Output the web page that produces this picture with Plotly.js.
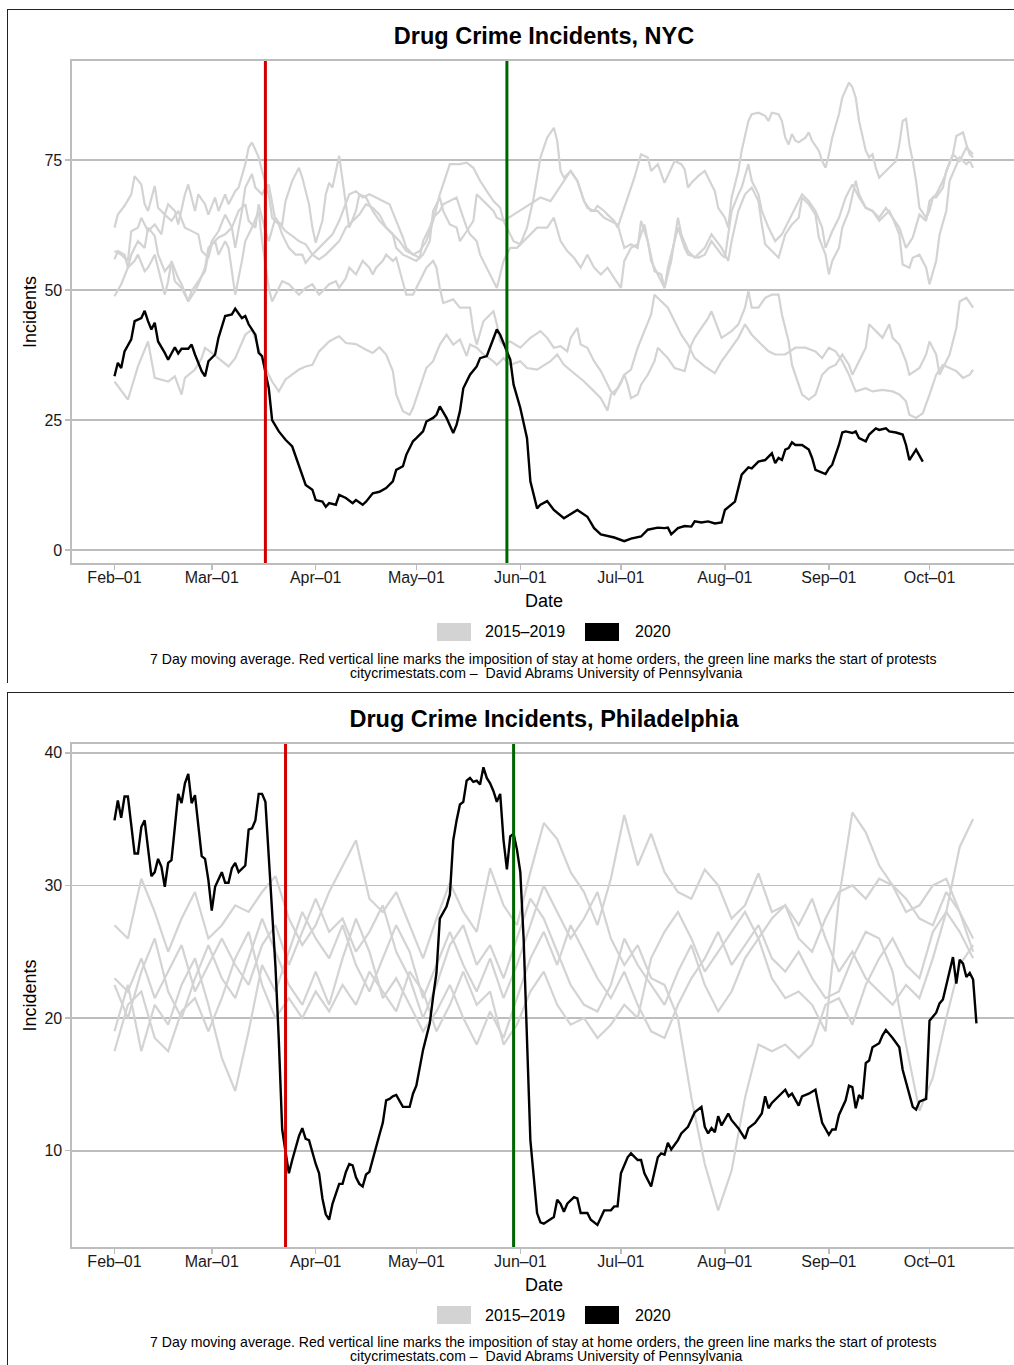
<!DOCTYPE html>
<html>
<head>
<meta charset="utf-8">
<script src="https://cdn.plot.ly/plotly-3.0.1.min.js"></script>
<style>
  html, body { margin:0; padding:0; background:#fff; width:1014px; height:1365px; overflow:hidden; }
  .frame { position:absolute; border-left:1.5px solid #222; border-top:1.5px solid #222; }
  .plot { position:absolute; }
</style>
</head>
<body>
<div class="frame" style="left:7px; top:9px; width:1100px; height:673px;"></div>
<div class="frame" style="left:7px; top:692px; width:1100px; height:700px;"></div>
<div id="nyc" class="plot" style="left:8px; top:10px; width:1010px; height:672px;"></div>
<div id="phl" class="plot" style="left:8px; top:693px; width:1010px; height:672px;"></div>
<script>
// ---------------- DATA ----------------
// day offsets are days after 2020-02-01
const tickDates = ['2020-02-01','2020-03-01','2020-04-01','2020-05-01','2020-06-01','2020-07-01','2020-08-01','2020-09-01','2020-10-01'];
const tickLabels = ['Feb–01','Mar–01','Apr–01','May–01','Jun–01','Jul–01','Aug–01','Sep–01','Oct–01'];
const legendLabels = ['2015–2019', '2020'];

// NYC
const nycStayHome = '2020-03-17';
const nycProtests = '2020-05-28';
const nycTicks = [0, 25, 50, 75];

const nyc2020Days = [0,1,2,3,5,6,8,9,10,11,12,13,15,16,18,19,20,22,23,24,26,27,28,30,31,33,35,36,38,39,40,42,43,44,46,47,49,51,53,55,57,59,60,62,63,64,66,67,69,71,72,74,75,77,79,81,83,84,86,87,89,90,92,93,95,96,97,99,101,102,103,104,106,108,109,111,112,113,114,115,116,118,119,121,123,124,126,127,129,131,134,136,138,141,143,145,147,149,152,154,157,159,162,164,165,166,168,170,172,173,175,177,179,181,182,184,185,187,189,190,192,194,196,197,198,199,200,201,202,203,205,207,208,209,210,212,213,214,216,217,218,220,221,222,224,225,227,228,230,231,233,235,236,237,239,241];
const nyc2020 = [33.4,36.0,35.0,38.2,40.5,44.0,44.6,46.0,44.0,42.4,43.7,40.1,37.9,36.6,39.0,37.8,38.7,38.7,39.5,37.6,34.4,33.4,36.3,37.6,40.8,45.0,45.3,46.4,44.6,45.0,43.4,41.4,37.9,37.3,31.1,25.0,22.8,21.2,19.9,16.4,12.5,11.6,9.6,9.3,8.3,9.0,8.7,10.6,10.0,9.0,9.6,8.7,9.3,10.9,11.2,11.9,13.2,15.4,16.1,18.3,20.9,21.5,22.8,24.7,25.4,26.0,27.6,25.4,22.5,24.1,26.7,31.1,33.7,35.3,36.9,37.3,38.9,40.5,42.4,41.4,39.8,36.6,31.8,27.3,21.5,13.2,8.0,8.7,9.4,7.7,6.1,6.9,7.7,6.4,4.2,3.0,2.7,2.4,1.7,2.2,2.6,3.9,4.3,4.2,4.3,3.0,4.2,4.6,4.5,5.5,5.3,5.5,5.1,5.3,7.7,8.7,9.3,14.5,15.9,15.7,17.0,17.3,18.6,16.7,17.7,17.3,19.3,19.6,20.7,20.2,20.2,19.3,17.7,15.4,15.1,14.6,15.7,16.4,20.2,22.6,22.8,22.5,22.8,21.5,20.9,22.2,23.4,23.1,23.4,22.8,22.6,22.2,20.2,17.3,19.3,17.0];

const nycPriorADays = [0,1,3,5,6,8,9,10,12,13,15,16,18,19,21,22,24,25,27,28,30,31,33,34,36,37,39,40,41,43,44,46,47,49,50,52,54,56,57,59,61,63,65,67,69,70,72,74,76,78,80,82,84,86,87,89,91,93,95,97,99,100,103,105,107,109,111,113,115,116,118,119,121,123,125,127,129,131,132,133,134,136,138,140,141,143,144,146,147,149,150,152,153,155,157,159,160,162,164,166,167,169,170,171,172,174,176,177,179,180,182,183,184,186,187,189,190,192,194,195,196,198,199,200,201,202,203,204,206,207,208,210,211,212,213,214,216,217,219,220,221,222,224,225,226,227,228,230,231,233,234,235,236,237,238,239,240,242,243,244,245,247,248,250,251,253,254,255,256];
const nycPriorA = [62.0,64.5,66.2,68.4,71.9,70.3,66.5,65.2,70.0,65.8,64.5,66.5,65.2,62.6,68.4,70.3,65.2,68.4,66.5,64.5,67.8,65.2,68.4,66.5,69.0,69.7,74.2,77.4,78.4,75.5,72.9,68.4,63.9,62.6,60.7,58.1,56.8,56.8,55.2,56.8,58.1,59.4,60.7,63.3,66.5,68.4,69.0,67.8,68.4,67.8,67.1,66.5,63.3,60.1,58.1,56.8,57.5,59.4,63.3,68.4,72.3,74.2,74.2,74.5,73.5,71.0,69.0,67.1,65.8,63.3,60.7,59.4,58.8,62.0,67.8,75.5,79.3,81.2,78.7,72.9,71.6,72.9,71.0,67.1,65.8,65.2,66.2,65.2,64.5,63.3,62.0,65.8,67.8,71.6,76.1,75.5,72.9,74.2,70.6,73.2,74.8,74.2,73.2,69.7,70.6,71.9,72.9,71.6,69.0,65.8,63.9,62.0,67.8,72.9,76.8,82.5,83.8,84.1,83.5,82.5,84.1,83.8,82.5,79.3,78.0,80.0,78.7,78.4,79.3,80.3,78.7,76.8,74.8,73.5,76.1,79.3,83.8,87.0,89.9,89.0,87.0,82.5,76.8,75.5,76.1,73.5,71.6,72.9,73.5,74.8,78.0,82.5,82.9,78.0,74.8,71.0,65.8,63.9,65.2,67.8,67.8,69.7,72.9,76.1,79.6,80.3,78.0,76.1,75.5];

const nycPriorBDays = [0,2,4,5,7,9,10,12,13,15,17,18,20,22,23,25,27,28,29,31,33,35,36,38,39,41,42,44,45,46,48,50,51,53,55,56,58,59,60,62,63,64,65,67,68,69,70,72,73,75,77,79,81,83,84,86,88,90,92,94,95,97,98,100,102,103,105,107,108,110,112,113,114,116,119,122,125,127,130,132,134,136,138,140,142,144,146,148,150,152,154,156,157,159,160,162,164,165,167,168,170,171,174,176,178,181,182,184,186,187,189,190,192,193,195,197,199,201,203,205,207,209,211,212,214,216,218,220,222,224,226,228,230,232,234,236,238,240,242,243,245,247,249,250,252,254,256];
const nycPriorB = [48.8,51.1,54.3,56.8,59.4,58.1,62.0,60.4,56.8,53.6,55.2,51.7,50.4,47.8,49.8,51.7,53.6,56.8,59.4,61.3,64.5,62.0,58.1,65.2,69.7,72.3,69.7,68.4,69.7,70.3,63.3,62.6,67.1,71.0,73.5,71.6,66.5,62.0,59.1,63.3,68.4,70.6,69.7,75.8,71.6,66.5,62.0,65.2,68.4,67.8,65.2,63.3,62.0,60.7,58.1,56.8,56.2,55.6,56.8,59.4,65.2,67.8,65.2,62.6,62.0,59.4,61.3,63.3,68.4,67.1,65.8,65.2,63.9,63.3,64.5,65.8,67.1,67.8,67.1,69.0,71.0,72.9,71.0,67.1,65.2,65.2,63.9,63.3,62.6,58.1,58.8,58.1,63.3,59.4,55.6,53.0,50.4,54.3,59.4,62.0,58.1,56.8,56.2,56.8,59.4,56.8,56.2,65.2,68.4,69.7,74.2,71.0,68.4,65.2,62.0,59.4,60.7,63.3,65.8,68.4,67.1,65.2,62.0,58.1,61.3,63.9,67.8,70.3,67.8,65.8,65.2,63.9,65.8,63.9,62.0,58.1,60.1,64.5,63.3,67.1,68.4,71.0,74.2,76.1,74.8,77.4,76.1];

const nycPriorCDays = [0,2,4,5,7,8,10,12,14,15,17,19,21,23,25,26,28,29,31,33,35,37,39,40,42,43,45,46,48,49,51,53,55,57,59,61,63,65,67,69,71,73,75,77,79,81,83,85,87,89,91,92,94,95,97,98,100,102,103,105,106,108,109,111,113,114,115,116,118,120,122,124,126,129,131,133,135,137,139,141,143,145,147,149,151,152,154,156,158,159,161,163,164,166,168,169,171,173,176,178,181,183,184,186,188,190,192,193,194,196,198,200,202,204,205,207,209,210,212,213,214,216,217,219,221,222,224,226,228,231,232,234,235,237,238,240,242,243,245,246,248,249,251,252,254,255,256];
const nycPriorC = [57.5,56.8,55.6,61.3,62.0,63.9,61.3,62.6,60.7,64.5,63.3,65.2,62.0,61.3,60.7,57.5,56.2,58.8,60.1,60.7,62.0,65.2,66.5,63.3,62.0,66.5,61.3,59.4,63.9,62.9,61.3,60.4,59.4,58.8,56.8,55.9,56.8,58.1,59.4,62.0,63.3,64.5,66.5,65.8,64.5,62.0,60.7,59.4,57.5,56.8,56.2,59.4,62.0,63.9,65.2,66.5,67.1,67.8,65.8,62.0,60.7,59.4,56.8,54.3,51.7,50.4,53.0,55.6,58.1,58.1,59.4,60.7,62.0,62.0,63.9,59.4,57.5,56.2,54.3,56.8,54.3,53.0,54.3,52.3,50.4,55.6,58.1,58.8,62.6,59.4,53.6,53.0,50.4,55.6,63.9,60.7,57.5,56.2,58.1,60.7,58.1,55.6,59.4,65.2,68.4,69.7,67.1,62.6,58.8,57.5,56.2,60.7,62.6,63.9,67.8,66.5,64.5,60.1,56.8,53.0,55.6,58.1,62.0,65.2,71.0,68.4,65.8,65.2,63.3,65.2,63.9,60.7,54.9,54.3,56.2,56.8,54.3,51.1,55.6,60.7,65.2,71.0,74.2,75.5,74.2,74.8,73.5];

const nycPriorDDays = [0,1,3,4,6,7,9,10,12,13,15,16,17,19,20,22,24,25,27,28,30,31,33,34,36,38,39,41,43,44,46,47,49,50,52,53,55,57,59,61,63,64,66,67,69,70,72,74,76,77,78,80,81,83,84,86,87,89,91,93,95,96,97,98,101,103,106,107,108,110,112,113,114,115,116,118,121,124,127,129,131,133,135,136,138,139,141,143,145,147,148,149,151,152,154,156,158,160,161,163,165,167,169,171,173,176,179,181,184,186,188,190,192,195,197,200,203,206,209,211,213,215,217,219,221,224,226,229,232,234,236,237,239,241,243,245,247,249,251,253,255,256];
const nycPriorD = [55.9,57.5,56.8,54.3,55.6,56.8,53.6,54.3,56.8,54.3,49.1,51.7,55.6,52.3,51.1,47.8,49.8,51.1,54.3,58.1,59.4,56.8,59.4,58.1,49.1,55.6,59.4,62.0,65.2,59.4,50.4,47.8,50.4,51.7,51.1,50.4,49.1,50.4,51.1,49.1,50.4,51.1,51.7,50.4,52.3,54.3,53.0,55.6,54.3,53.0,54.3,55.6,56.8,55.6,56.2,51.7,49.1,49.1,51.7,54.3,55.6,54.3,50.4,47.5,48.2,46.6,46.6,42.1,39.5,44.0,45.3,45.9,43.4,40.1,39.5,40.1,38.9,40.8,42.1,40.8,38.9,39.2,38.2,40.8,42.7,39.5,38.9,36.3,34.4,31.8,30.5,29.9,32.1,33.7,34.7,38.9,42.1,45.3,49.1,47.8,46.6,44.0,41.4,39.5,36.9,35.3,34.0,36.3,38.9,40.8,43.4,41.4,40.1,38.2,37.6,37.6,38.9,38.9,38.2,36.9,38.9,38.2,36.3,33.7,30.5,31.1,30.5,30.8,30.5,29.9,28.6,26.0,25.4,26.3,29.9,33.7,35.6,35.0,34.4,33.1,33.7,34.7];

const nycPriorEDays = [0,4,7,10,12,14,16,18,20,21,24,26,27,29,32,34,36,39,41,43,45,47,49,51,53,55,57,59,61,63,64,66,67,69,72,75,77,79,81,83,84,86,88,89,91,93,95,97,99,101,103,105,106,108,110,113,114,116,118,121,123,126,130,132,134,137,140,143,145,147,148,150,152,153,154,156,157,159,161,162,163,165,167,170,172,173,175,177,178,180,181,184,186,188,189,190,192,194,196,198,199,201,202,204,205,207,209,211,213,215,217,219,220,222,224,225,227,229,231,232,234,236,237,240,242,243,245,246,247,249,251,252,254,256];
const nycPriorE = [32.4,28.9,35.3,40.1,33.1,32.8,32.4,33.4,29.9,33.1,34.7,36.9,38.9,37.9,36.3,35.3,36.9,41.4,42.4,38.9,35.0,32.4,30.5,32.8,33.7,34.7,35.3,35.6,38.2,39.5,40.1,40.8,41.1,39.8,39.6,38.5,37.9,39.0,37.6,34.4,29.9,26.7,26.0,27.3,31.1,35.0,36.3,39.5,41.4,39.5,40.5,37.3,39.5,38.9,37.6,36.3,35.6,36.9,35.6,36.3,35.0,34.7,36.3,37.6,35.6,34.0,32.4,30.5,29.2,26.8,29.9,31.1,33.7,31.8,29.2,29.9,31.8,33.7,36.3,38.9,38.2,36.9,35.0,34.4,39.5,40.8,42.7,44.6,45.9,42.7,40.8,42.1,43.4,46.6,49.8,46.6,46.6,48.5,49.1,49.1,45.3,40.1,35.6,31.8,29.9,28.9,29.9,33.7,35.0,35.6,37.6,35.6,33.7,36.3,38.9,43.4,42.1,40.8,43.4,40.8,39.5,36.3,33.7,35.0,37.6,40.1,37.6,33.7,35.0,37.6,42.7,47.8,48.5,46.6];

// Philadelphia
const phlStayHome = '2020-03-23';
const phlProtests = '2020-05-30';
const phlTicks = [10, 20, 30, 40];

const phl2020Days = [0,1,2,3,4,5,6,7,8,9,10,11,12,13,14,15,16,17,18,19,20,21,22,23,24,25,26,27,28,29,30,32,33,34,35,36,37,39,40,41,42,43,44,45,46,47,48,49,50,51,52,53,54,55,56,57,58,59,60,61,62,63,64,65,66,67,68,69,70,71,72,73,74,75,76,77,78,79,80,81,82,83,84,85,86,88,89,90,91,92,93,94,95,96,97,98,99,100,101,102,103,104,105,106,107,108,109,110,111,112,113,114,115,116,117,118,119,120,121,122,123,124,126,127,128,130,131,132,133,134,135,137,138,139,141,142,144,146,148,149,150,151,153,154,156,157,158,160,161,162,163,164,165,166,168,169,171,172,173,175,176,177,178,179,180,181,183,184,186,188,189,191,193,194,195,196,198,200,201,202,204,205,207,209,210,211,213,214,215,216,218,219,220,221,222,223,224,225,226,228,229,230,232,234,235,237,238,239,240,242,243,245,246,247,249,250,251,252,253,254,255,256,257];
const phl2020 = [34.9,36.4,35.1,36.7,36.7,34.7,32.4,32.4,34.4,34.9,32.7,30.7,31.0,32.0,31.4,29.9,31.7,31.9,34.4,36.9,36.2,37.7,38.4,36.2,36.8,34.7,32.2,32.0,30.4,28.1,29.9,31.0,30.2,30.2,31.3,31.7,31.0,31.5,34.2,34.3,34.9,36.9,36.9,36.3,32.2,28.4,23.9,18.3,11.6,9.9,8.3,9.3,10.3,11.1,11.7,10.9,10.8,9.8,9.0,8.3,6.4,5.2,4.8,6.0,6.7,7.5,7.5,8.4,9.0,8.9,8.0,7.5,7.3,8.2,8.4,9.4,10.3,11.2,12.1,13.8,13.9,14.1,14.2,13.7,13.3,13.3,14.3,14.9,16.3,17.6,18.6,19.6,21.6,23.4,27.5,27.9,28.4,29.3,33.4,34.9,36.1,36.3,37.9,38.1,37.8,37.9,37.6,38.9,38.1,37.7,37.1,36.3,36.9,33.4,31.2,33.7,33.9,32.7,31.0,25.9,18.3,10.8,5.3,4.6,4.5,4.8,5.0,6.3,6.0,5.4,6.0,6.5,6.4,5.3,5.3,4.8,4.4,5.5,5.5,5.8,5.8,8.3,9.5,9.8,9.3,9.3,8.3,7.3,8.3,9.5,9.8,9.7,10.6,10.1,10.8,11.3,11.8,12.3,12.9,13.3,11.8,11.3,11.7,11.4,12.6,11.9,12.8,12.3,11.7,10.9,11.7,12.1,12.8,14.1,13.2,13.6,14.1,14.6,14.1,14.3,13.4,14.1,14.3,14.6,13.3,12.1,11.2,11.6,11.6,12.7,13.8,14.9,14.8,13.2,14.2,13.9,16.6,16.8,17.8,18.1,18.7,19.1,18.5,17.8,16.1,14.3,13.3,13.1,13.7,13.9,19.8,20.4,21.1,21.4,23.4,24.6,22.6,24.4,24.1,23.1,23.4,22.9,19.6];

const phlPriorDays = [0,4,8,12,16,20,24,28,32,36,40,44,48,52,56,60,64,68,72,76,80,84,88,92,96,100,104,108,112,116,120,124,128,132,136,140,144,148,152,156,160,164,168,172,176,180,184,188,192,196,200,204,208,212,216,220,224,228,232,236,240,244,248,252,256];
const phlPriorA = [27.0,26.0,30.5,28.0,25.0,27.5,29.5,26.0,27.0,28.5,28.0,29.5,30.7,27.5,25.5,27.0,29.5,31.5,33.4,29.0,28.0,29.5,27.0,24.5,27.5,30.2,28.0,26.5,31.3,28.5,27.0,31.0,34.7,33.5,31.0,29.5,27.0,30.5,35.3,31.5,33.9,31.0,29.5,29.0,31.2,30.0,27.5,28.5,30.9,28.0,28.5,27.0,29.0,26.0,23.5,25.0,23.0,22.0,21.0,22.5,21.5,24.5,28.0,32.9,35.0];
const phlPriorB = [23.0,22.0,24.5,21.5,23.5,25.5,22.0,24.0,26.0,24.0,22.5,25.5,27.0,24.0,26.5,29.0,26.5,27.5,25.0,26.5,28.5,25.0,23.0,20.0,22.5,25.5,27.0,24.0,25.5,23.0,26.0,29.0,27.5,25.0,22.5,21.0,20.5,22.5,26.0,24.0,22.5,21.0,23.5,25.5,22.5,20.5,22.0,24.5,26.0,23.0,21.5,22.0,21.0,19.0,29.0,35.5,34.0,31.5,30.0,29.0,27.5,27.0,29.5,28.0,25.0];
const phlPriorC = [19.0,22.5,17.5,21.0,19.5,22.5,24.5,21.0,17.0,14.5,19.0,24.0,22.0,25.0,28.0,26.0,24.5,27.0,24.0,22.0,24.5,27.0,25.0,21.5,24.0,26.5,24.0,22.0,24.5,21.5,24.0,27.0,30.0,28.0,26.0,27.5,29.5,26.0,24.0,25.5,23.0,22.5,20.0,14.0,9.0,5.5,8.5,14.0,18.0,17.5,18.0,17.0,18.0,21.0,21.5,19.5,22.5,24.5,26.0,24.0,23.0,26.5,28.0,26.5,24.5];
const phlPriorD = [22.5,20.0,23.5,26.0,22.0,20.0,23.0,25.5,23.0,21.5,24.5,27.5,25.0,22.5,21.0,23.5,21.0,24.5,27.5,25.0,21.5,23.0,21.0,19.0,20.5,22.5,20.0,18.0,20.5,18.5,21.5,24.5,26.5,24.0,27.0,25.0,23.0,21.5,23.5,21.0,19.0,18.5,21.0,23.0,24.5,26.5,24.0,25.5,27.0,24.5,23.5,25.0,23.0,21.5,22.0,24.5,26.5,26.0,23.5,18.0,13.0,15.5,20.0,24.0,25.5];
const phlPriorE = [17.5,21.0,22.0,18.5,17.5,20.5,21.5,19.0,21.5,24.5,26.5,22.5,20.0,21.5,20.0,22.0,20.5,22.5,21.0,23.5,22.0,20.5,23.5,22.0,19.0,21.0,23.5,21.0,22.0,18.0,19.5,22.0,23.5,21.0,19.5,20.0,18.5,19.5,21.0,20.0,24.5,26.5,28.0,26.0,23.5,25.0,26.5,28.0,26.0,27.5,28.5,26.0,25.0,27.5,29.5,30.0,29.0,30.5,30.0,28.0,28.5,30.0,30.5,28.0,26.0];

// ---------------- DRAWING ----------------
const FONT = 'Liberation Sans, Arial, Helvetica, sans-serif';
const GRAY = '#d3d3d3';
const START = Date.UTC(2020, 1, 1);
function toDate(d) { return new Date(START + d * 86400000).toISOString().slice(0, 10); }

// plot-area pixel geometry (page coordinates) used only to place decorations
function makeGeom(top, bottom) {
  return {
    px: x => (x - 72) / 944,
    py: y => (bottom - y) / (bottom - top)
  };
}

function buildPanel(divId, cfg) {
  const g = makeGeom(cfg.plotTop, cfg.plotBottom);
  const off = cfg.offset; // vertical offset of this panel on the page
  const traces = [];
  cfg.gray.forEach(s => {
    traces.push({
      x: s.days.map(toDate), y: s.vals, type: 'scatter', mode: 'lines',
      line: { color: GRAY, width: 2.2 }, showlegend: false, hoverinfo: 'skip'
    });
  });
  traces.push({
    x: cfg.blackDays.map(toDate), y: cfg.blackVals, type: 'scatter', mode: 'lines',
    line: { color: '#000', width: 2.4 }, showlegend: false, hoverinfo: 'skip'
  });

  const shapes = [
    { type: 'line', xref: 'x', yref: 'paper', x0: cfg.red, x1: cfg.red, y0: 0, y1: 1,
      line: { color: '#d10000', width: 3 } },
    { type: 'line', xref: 'x', yref: 'paper', x0: cfg.green, x1: cfg.green, y0: 0, y1: 1,
      line: { color: '#006400', width: 3 } },
    // legend keys
    { type: 'rect', xref: 'paper', yref: 'paper', x0: g.px(437), x1: g.px(471),
      y0: g.py(641 + off), y1: g.py(623 + off), fillcolor: GRAY, line: { width: 0 } },
    { type: 'rect', xref: 'paper', yref: 'paper', x0: g.px(585), x1: g.px(619),
      y0: g.py(641 + off), y1: g.py(623 + off), fillcolor: '#000', line: { width: 0 } }
  ];

  const annotations = [
    { text: legendLabels[0], xref: 'paper', yref: 'paper', x: g.px(483), y: g.py(632 + off),
      xanchor: 'left', yanchor: 'middle', showarrow: false, font: { size: 16, color: '#000' } },
    { text: legendLabels[1], xref: 'paper', yref: 'paper', x: g.px(633), y: g.py(632 + off),
      xanchor: 'left', yanchor: 'middle', showarrow: false, font: { size: 16, color: '#000' } },
    { text: '7 Day moving average. Red vertical line marks the imposition of stay at home orders, the green line marks the start of protests',
      xref: 'paper', yref: 'paper', x: g.px(543), y: g.py(659 + off), xanchor: 'center', yanchor: 'middle',
      showarrow: false, font: { size: 14.1, color: '#000' } },
    { text: 'citycrimestats.com –  David Abrams University of Pennsylvania',
      xref: 'paper', yref: 'paper', x: g.px(546), y: g.py(673 + off), xanchor: 'center', yanchor: 'middle',
      showarrow: false, font: { size: 14.1, color: '#000' } }
  ];

  const layout = {
    width: 1010, height: 672,
    margin: { l: 64, r: 2, t: cfg.plotTop - cfg.divTop, b: cfg.divTop + 672 - cfg.plotBottom, pad: 0 },
    paper_bgcolor: 'rgba(0,0,0,0)', plot_bgcolor: '#fff',
    font: { family: FONT, color: '#000' },
    title: { text: '<b>' + cfg.title + '</b>', font: { size: 23.5, color: '#000', family: FONT },
      x: 0.5, xref: 'paper', xanchor: 'center', y: 1 - (36 + off - cfg.divTop) / 672, yref: 'container', yanchor: 'middle' },
    showlegend: false,
    xaxis: {
      type: 'date', range: ['2020-01-19 08:00', '2020-10-26 19:00'],
      tickvals: tickDates, ticktext: tickLabels, tickfont: { size: 16, color: '#1a1a1a' },
      ticks: 'outside', ticklen: 5, tickwidth: 1.5, tickcolor: '#bdbdbd', ticklabelstandoff: -6,
      showline: true, linecolor: '#bdbdbd', linewidth: 1.6, mirror: true,
      showgrid: false, zeroline: false,
      title: { text: 'Date', font: { size: 18, color: '#000' }, standoff: 9 }
    },
    yaxis: {
      range: cfg.yRange, tickvals: cfg.yTicks, tickfont: { size: 16, color: '#1a1a1a' },
      ticks: 'outside', ticklen: 5, tickwidth: 1.5, tickcolor: '#bdbdbd',
      showline: true, linecolor: '#bdbdbd', linewidth: 1.6,
      showgrid: true, gridcolor: '#bdbdbd', gridwidth: 1.7, zeroline: false,
      title: { text: 'Incidents', font: { size: 18, color: '#000' }, standoff: 3 }
    },
    shapes: shapes, annotations: annotations
  };
  Plotly.newPlot(divId, traces, layout, { staticPlot: true, displayModeBar: false });
}

buildPanel('nyc', {
  title: 'Drug Crime Incidents, NYC', divTop: 10, plotTop: 61, plotBottom: 563, offset: 0,
  yRange: [-2.5, 94.04], yTicks: nycTicks, red: nycStayHome, green: nycProtests,
  blackDays: nyc2020Days, blackVals: nyc2020,
  gray: [
    { days: nycPriorADays, vals: nycPriorA }, { days: nycPriorBDays, vals: nycPriorB },
    { days: nycPriorCDays, vals: nycPriorC }, { days: nycPriorDDays, vals: nycPriorD },
    { days: nycPriorEDays, vals: nycPriorE }
  ]
});

buildPanel('phl', {
  title: 'Drug Crime Incidents, Philadelphia', divTop: 693, plotTop: 744, plotBottom: 1247, offset: 683,
  yRange: [2.74, 40.66], yTicks: phlTicks, red: phlStayHome, green: phlProtests,
  blackDays: phl2020Days, blackVals: phl2020,
  gray: [
    { days: phlPriorDays, vals: phlPriorA }, { days: phlPriorDays, vals: phlPriorB },
    { days: phlPriorDays, vals: phlPriorC }, { days: phlPriorDays, vals: phlPriorD },
    { days: phlPriorDays, vals: phlPriorE }
  ]
});
</script>
</body>
</html>
